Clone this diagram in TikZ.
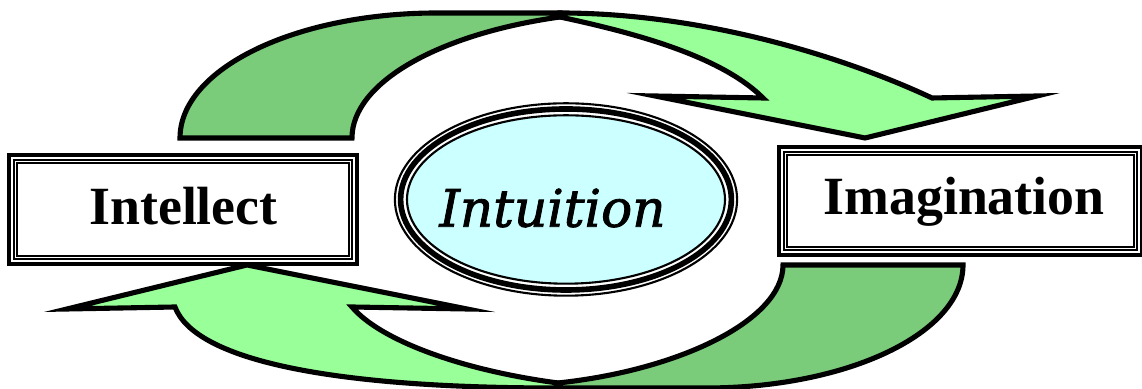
\documentclass[tikz,border=0pt]{standalone}
\usepackage{fontspec}
\setmainfont{Liberation Serif}
\newfontfamily\intufont[FakeBold=1.6]{DejaVu Serif}
\usetikzlibrary{calc}
\definecolor{lgreen}{HTML}{99FF99}
\definecolor{dgreen}{HTML}{7ACC7A}
\definecolor{lcyan}{HTML}{CCFFFF}
\tikzset{
  arrowshape/.style={draw=black, line width=1.45pt, line join=miter, miter limit=25},
  frontpart/.style={arrowshape, fill=lgreen},
  backpart/.style={arrowshape, fill=dgreen},
  labeltext/.style={anchor=base, inner sep=0pt, font=\bfseries\fontsize{15.3pt}{18pt}\selectfont},
  intutext/.style={anchor=base, inner sep=0pt, font=\intufont\itshape\fontsize{14.7pt}{18pt}\selectfont}
}
\newcommand{\tribox}[4]{%
  \fill[white] (#1,#2) rectangle (#3,#4);
  \draw[line width=1.25pt] ($(#1,#2)+(2.2,2.2)$) rectangle ($(#3,#4)+(-2.2,-2.2)$);
  \draw[line width=0.65pt] ($(#1,#2)+(7,7)$) rectangle ($(#3,#4)+(-7,-7)$);
  \draw[line width=0.5pt] ($(#1,#2)+(10.3,10.3)$) rectangle ($(#3,#4)+(-10.3,-10.3)$);
}
\begin{document}
\begin{tikzpicture}[x=0.01cm, y=-0.01cm]
\useasboundingbox (0,0) rectangle (1142,389);
\fill[white] (0,0) rectangle (1142,389);

% top curved arrow
\draw[backpart] (180,138) -- (352,138) .. controls (352,83) and (438,34) .. (560,17)
  -- (560,13) -- (437,13) .. controls (295,13) and (180,69) .. (180,138) -- cycle;
\draw[frontpart] (560,13) .. controls (700,13) and (840,55) .. (932,98)
  -- (1037,96) -- (865,138) -- (655,96) -- (763,98)
  .. controls (720,55) and (630,32) .. (560,17) -- cycle;

% bottom curved arrow
\draw[backpart] (963,265) -- (783,265) .. controls (783,320) and (680,370) .. (558,383)
  -- (555,388) -- (706,388) .. controls (848,388) and (963,333) .. (963,265) -- cycle;
\draw[frontpart] (555,388) .. controls (330,388) and (195,360) .. (175,307)
  -- (67,309) -- (247,265) -- (467,309) -- (352,307)
  .. controls (380,340) and (460,370) .. (558,383) -- cycle;

% boxes
\tribox{7}{153}{359}{266}
\tribox{777}{145}{1144}{257}
\node[labeltext] (intellect) at (183.5,224.5) {Intellect};
\node[labeltext] (imagination) at (964,215) {Imagination};

% ellipse
\fill[lcyan] (566,199.5) ellipse [x radius=159, y radius=84.2];
\draw[line width=0.6pt] (566,199.5) ellipse [x radius=171.1, y radius=96.2];
\draw[line width=1.6pt] (566,199.5) ellipse [x radius=165.4, y radius=90.5];
\draw[line width=0.6pt] (566,199.5) ellipse [x radius=159, y radius=84.2];
\node[intutext] (intuition) at (552.5,226.7) {Intuition};
\end{tikzpicture}
\end{document}
